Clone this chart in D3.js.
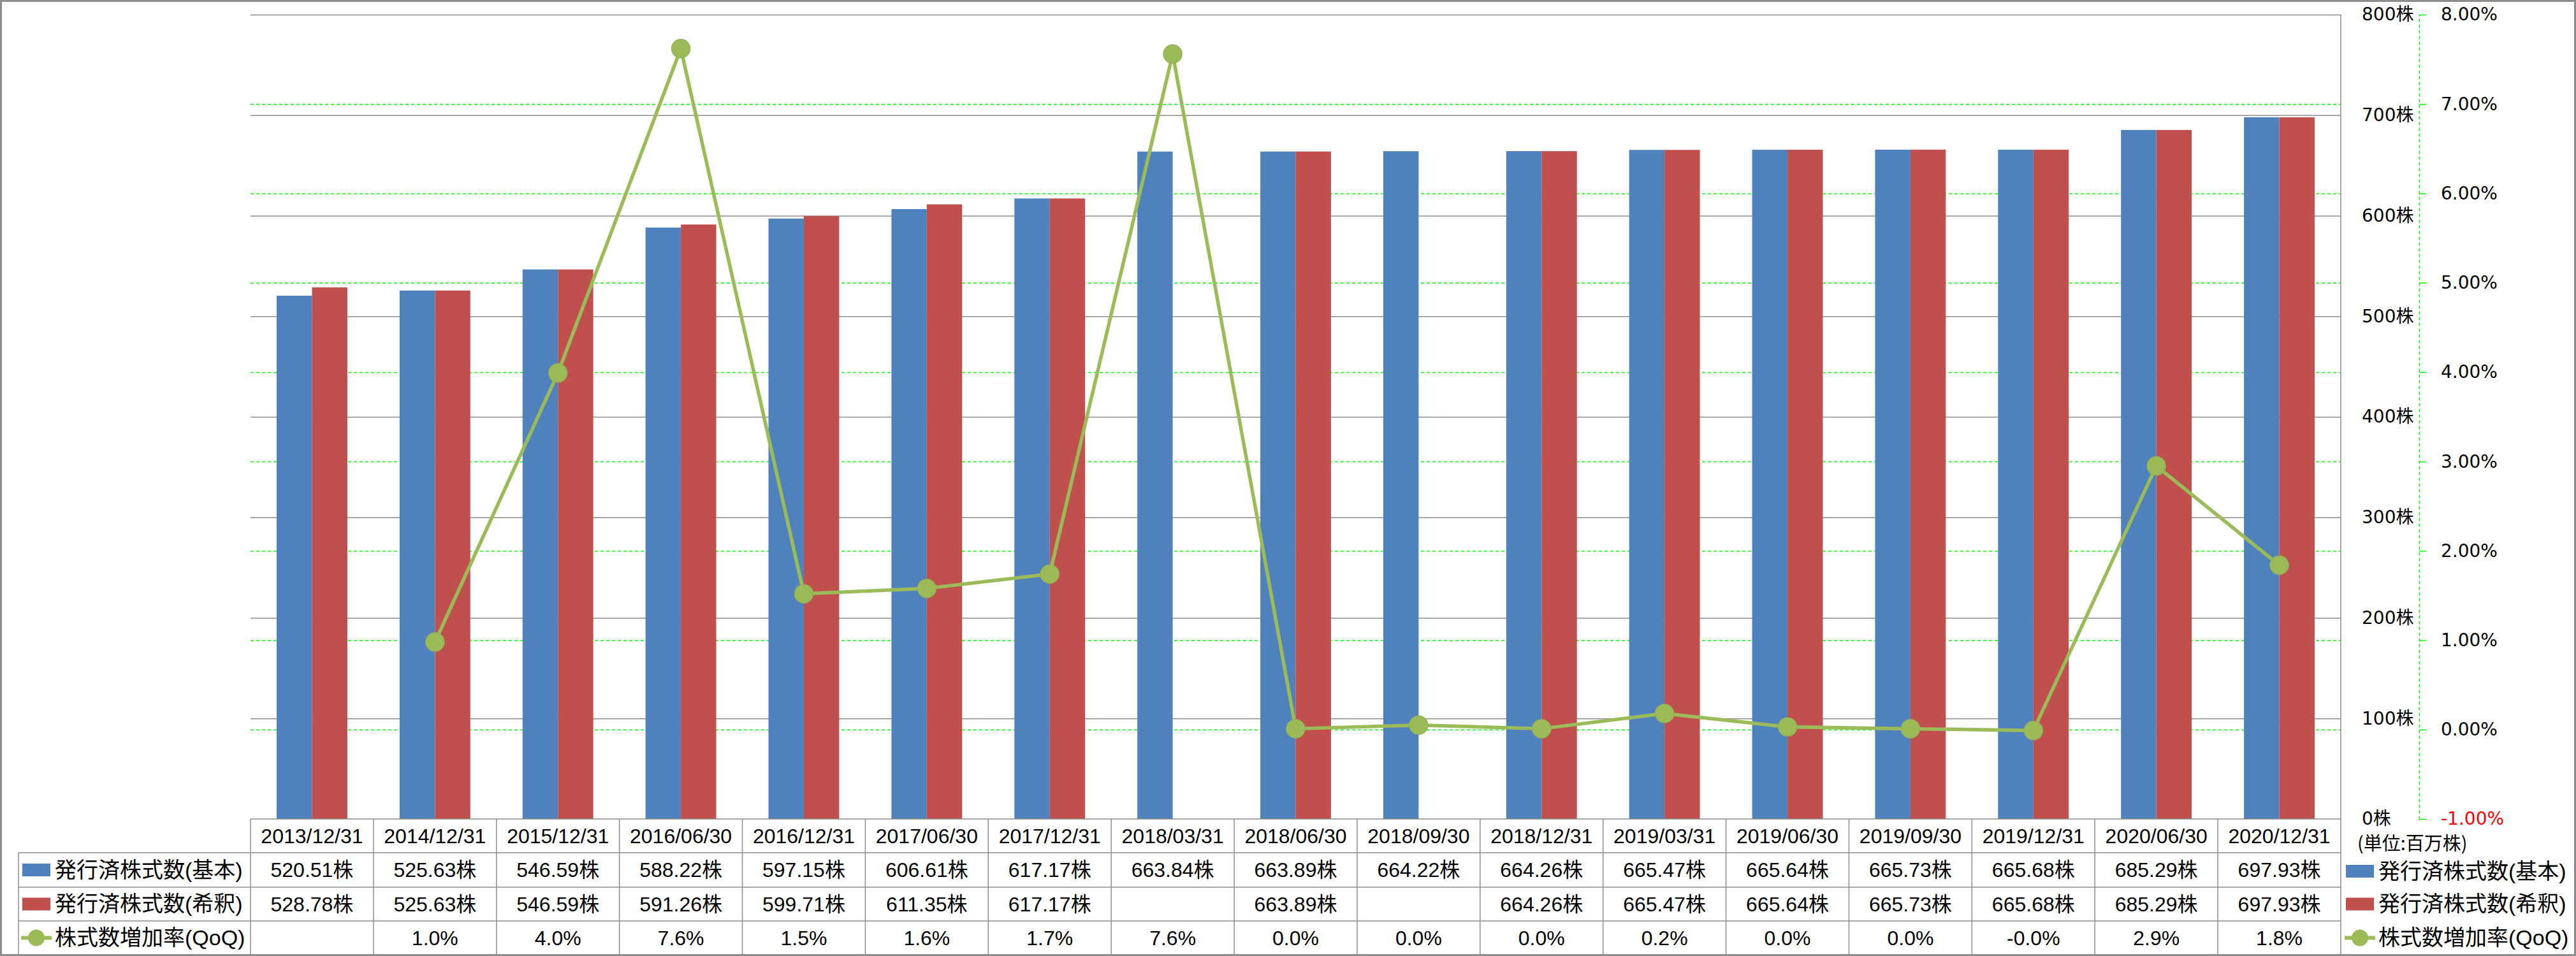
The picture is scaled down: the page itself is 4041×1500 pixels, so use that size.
<!DOCTYPE html>
<html><head><meta charset="utf-8">
<script src="https://cdn.jsdelivr.net/npm/d3@7"></script>
<style>body{margin:0;background:#fff} svg{display:block}</style>
</head><body>
<svg id="c" width="4041" height="1500"></svg>
<script>
// ---- data ----
const categories = ["2013/12/31","2014/12/31","2015/12/31","2016/06/30","2016/12/31","2017/06/30","2017/12/31","2018/03/31","2018/06/30","2018/09/30","2018/12/31","2019/03/31","2019/06/30","2019/09/30","2019/12/31","2020/06/30","2020/12/31"];
const basicShares = [520.51,525.63,546.59,588.22,597.15,606.61,617.17,663.84,663.89,664.22,664.26,665.47,665.64,665.73,665.68,685.29,697.93];
const dilutedShares = [528.78,525.63,546.59,591.26,599.71,611.35,617.17,null,663.89,null,664.26,665.47,665.64,665.73,665.68,685.29,697.93];
const growthQoQ = [null,0.98,3.99,7.62,1.52,1.58,1.74,7.56,0.01,0.05,0.01,0.18,0.03,0.01,-0.01,2.95,1.84];
const growthLabels = ["","1.0%","4.0%","7.6%","1.5%","1.6%","1.7%","7.6%","0.0%","0.0%","0.0%","0.2%","0.0%","0.0%","-0.0%","2.9%","1.8%"];
const shareTicks = [0,100,200,300,400,500,600,700,800];
const pctTicks = [-1,0,1,2,3,4,5,6,7,8];
const seriesNames = ["発行済株式数(基本)","発行済株式数(希釈)","株式数増加率(QoQ)"];
const unitLabel = "(単位:百万株)";
const colors = {basic:"#4F81BD", diluted:"#C0504D", growth:"#9BBB59"};

// ---- layout ----
const W = 4041, H = 1500;
const plotL = 393, plotR = 3672, plotT = 23, plotB = 1285;
const rowEdges = [1285, 1338, 1392, 1445, 1498];
const labelColL = 29;
const tableFont = "'Liberation Sans','Noto Sans CJK JP',sans-serif";
const axisFont = "'DejaVu Sans','Noto Sans CJK JP',sans-serif";
const cjkFont = "'Noto Sans CJK JP',sans-serif";

const svg = d3.select("#c");

const x = d3.scaleBand().domain(categories).range([plotL, plotR]).padding(0);
const bw = x.bandwidth();
const xs = d3.scaleBand().domain(["basic","diluted"]).range([bw*0.2125, bw*0.7875]).padding(0);
const y = d3.scaleLinear().domain([0,800]).range([plotB, plotT]);
const yR = d3.scaleLinear().domain([-1,8]).range([plotB, plotT]);

// gray gridlines (shares)
const gGrid = svg.append("g").attr("transform",`translate(${plotL},0)`)
  .call(d3.axisLeft(y).tickValues(shareTicks.filter(d=>d>0)).tickSize(-(plotR-plotL)).tickFormat(""));
gGrid.select(".domain").remove();
gGrid.selectAll("line").attr("stroke","#8c8c8c").attr("stroke-width",1.5);

// green dashed gridlines (percent)
const gGrid2 = svg.append("g").attr("transform",`translate(${plotL},0)`)
  .call(d3.axisLeft(yR).tickValues(pctTicks.filter(d=>d>-1 && d<8)).tickSize(-(plotR-plotL)).tickFormat(""));
gGrid2.select(".domain").remove();
gGrid2.selectAll("line").attr("stroke","#00ff00").attr("stroke-width",1.5).attr("stroke-dasharray","5,4");

// bars
const barData = [];
categories.forEach((c,i)=>{
  barData.push({cat:c, key:"basic", v:basicShares[i]});
  if (dilutedShares[i] != null) barData.push({cat:c, key:"diluted", v:dilutedShares[i]});
});
svg.append("g").selectAll("rect").data(barData).join("rect")
  .attr("x", d => x(d.cat) + xs(d.key))
  .attr("width", xs.bandwidth())
  .attr("y", d => y(d.v))
  .attr("height", d => y(0) - y(d.v))
  .attr("fill", d => colors[d.key]);

// growth line
const lineData = categories.map((c,i)=>({cat:c, v:growthQoQ[i]})).filter(d=>d.v!=null);
svg.append("path").datum(lineData)
  .attr("fill","none").attr("stroke",colors.growth).attr("stroke-width",5.5).attr("stroke-linejoin","round")
  .attr("d", d3.line().x(d=>x(d.cat)+bw/2).y(d=>yR(d.v)));
svg.append("g").selectAll("circle").data(lineData).join("circle")
  .attr("cx", d=>x(d.cat)+bw/2).attr("cy", d=>yR(d.v)).attr("r",14.5)
  .attr("fill",colors.growth).attr("stroke","#93b255").attr("stroke-width",1.5);

// shares axis labels (placed right of plot)
const gL = svg.append("g").attr("transform","translate(3705,0)")
  .call(d3.axisRight(y).tickValues(shareTicks).tickSize(0).tickPadding(0).tickFormat(d=>d+"株"));
gL.select(".domain").remove();
gL.selectAll("text").attr("font-family",axisFont).attr("font-size",28).attr("fill","#000");

// percent axis
const pctFmt = d => (d<0?"-":"") + d3.format(".2f")(Math.abs(d)) + "%";
const gR = svg.append("g").attr("transform","translate(3795,0)")
  .call(d3.axisRight(yR).tickValues(pctTicks).tickSize(11).tickSizeOuter(0).tickPadding(23).tickFormat(pctFmt));
gR.select(".domain").attr("stroke","#00ff00").attr("stroke-width",1.5).attr("stroke-dasharray","5,4");
gR.selectAll(".tick line").attr("stroke","#00ff00").attr("stroke-width",1.5);
gR.selectAll("text").attr("font-family",axisFont).attr("font-size",28).attr("fill",d=>d<0?"#ff0000":"#000");

// unit label
svg.append("text").attr("x",3698).attr("y",1324).attr("dy","0.35em")
  .attr("font-family",cjkFont).attr("font-size",29).attr("fill","#000").text(unitLabel);

// ---- data table ----
const tbl = svg.append("g").attr("stroke","#8c8c8c").attr("stroke-width",1.5);
tbl.append("line").attr("x1",plotL).attr("x2",plotR).attr("y1",rowEdges[0]).attr("y2",rowEdges[0]);
rowEdges.slice(1).forEach(yy=>{
  tbl.append("line").attr("x1",labelColL).attr("x2",plotR).attr("y1",yy).attr("y2",yy);
});
tbl.append("line").attr("x1",labelColL).attr("x2",labelColL).attr("y1",rowEdges[1]).attr("y2",rowEdges[4]);
d3.range(categories.length).forEach(i=>{
  const xx = x(categories[i]);
  tbl.append("line").attr("x1",xx).attr("x2",xx).attr("y1",rowEdges[0]).attr("y2",rowEdges[4]);
});
tbl.append("line").attr("x1",plotR).attr("x2",plotR).attr("y1",plotT).attr("y2",rowEdges[4]);

const rowMid = i => (rowEdges[i]+rowEdges[i+1])/2;
const fmtShares = v => v==null ? "" : d3.format(".2f")(v)+"株";
const rows = [
  categories,
  basicShares.map(fmtShares),
  dilutedShares.map(fmtShares),
  growthLabels
];
rows.forEach((vals,r)=>{
  svg.append("g").selectAll("text").data(vals).join("text")
    .attr("x",(d,i)=>x(categories[i])+bw/2)
    .attr("y",rowMid(r)).attr("dy","0.35em")
    .attr("text-anchor","middle")
    .attr("font-family",tableFont).attr("font-size",32).attr("fill","#000")
    .text(d=>d);
});

// row headers with keys
function drawKey(g, kind, cx, cy){
  if (kind==="growth"){
    g.append("line").attr("x1",cx-24).attr("x2",cx+24).attr("y1",cy).attr("y2",cy)
      .attr("stroke",colors.growth).attr("stroke-width",6);
    g.append("circle").attr("cx",cx).attr("cy",cy).attr("r",13).attr("fill",colors.growth);
  } else {
    g.append("rect").attr("x",cx-22).attr("y",cy-10).attr("width",44).attr("height",20).attr("fill",colors[kind]);
  }
}
const kinds = ["basic","diluted","growth"];
kinds.forEach((k,i)=>{
  const cy = rowMid(i+1);
  const g = svg.append("g");
  drawKey(g,k,57,cy);
  g.append("text").attr("x",86).attr("y",cy).attr("dy","0.35em")
    .attr("font-family",tableFont).attr("font-size",34).attr("fill","#000").text(seriesNames[i]);
});

// right legend
kinds.forEach((k,i)=>{
  const cy = rowMid(i+1) + (k==="basic"?2:0);
  const g = svg.append("g");
  drawKey(g,k,3702,cy);
  g.append("text").attr("x",3731).attr("y",cy).attr("dy","0.35em")
    .attr("font-family",tableFont).attr("font-size",34).attr("fill","#000").text(seriesNames[i]);
});

// outer border
svg.append("rect").attr("x",1.5).attr("y",1.5).attr("width",W-3).attr("height",H-3)
  .attr("fill","none").attr("stroke","#8c8c8c").attr("stroke-width",3);
</script>
</body></html>
